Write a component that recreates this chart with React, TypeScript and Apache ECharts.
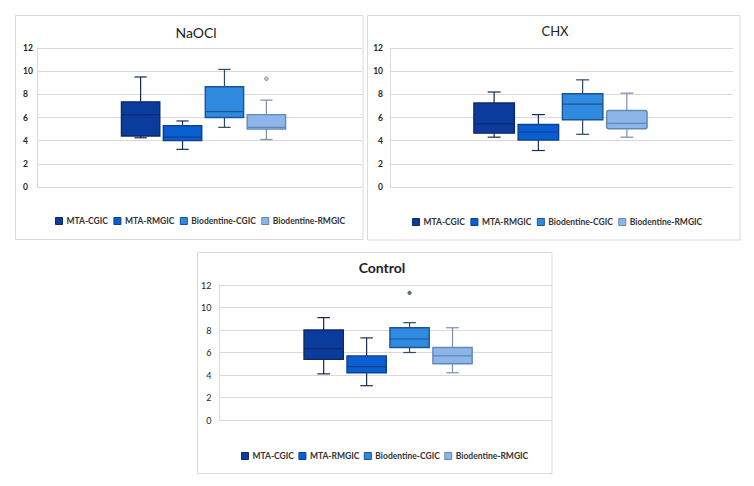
import React, { useEffect, useRef } from "react";
import * as echarts from "echarts";

// ---------- DATA ----------
const GROUPS = ["MTA-CGIC", "MTA-RMGIC", "Biodentine-CGIC", "Biodentine-RMGIC"];
const PANEL_TITLES = ["NaOCl", "CHX", "Control"];
const Y_MIN = 0;
const Y_MAX = 12;
const Y_STEP = 2;

// each box: [min, Q1, median, Q3, max]
const NAOCL_BOXES = [
  [4.25, 4.4, 6.25, 7.35, 9.5],
  [3.25, 4.0, 4.3, 5.3, 5.7],
  [5.15, 6.0, 6.5, 8.65, 10.15],
  [4.1, 5.0, 5.15, 6.25, 7.5],
];
const NAOCL_OUTLIERS = [[], [], [], [9.35]];

const CHX_BOXES = [
  [4.3, 4.65, 5.45, 7.25, 8.2],
  [3.15, 4.05, 4.75, 5.4, 6.25],
  [4.55, 5.8, 7.15, 8.05, 9.25],
  [4.3, 5.03, 5.5, 6.6, 8.1],
];
const CHX_OUTLIERS = [[], [], [], []];

const CONTROL_BOXES = [
  [4.1, 5.4, 6.35, 8.0, 9.1],
  [3.05, 4.2, 4.75, 5.7, 7.3],
  [6.0, 6.45, 7.2, 8.2, 8.65],
  [4.2, 5.0, 5.7, 6.45, 8.2],
];
const CONTROL_OUTLIERS = [[], [], [11.3], []];

const ALL_BOXES = [NAOCL_BOXES, CHX_BOXES, CONTROL_BOXES];
const ALL_OUTLIERS = [NAOCL_OUTLIERS, CHX_OUTLIERS, CONTROL_OUTLIERS];

// ---------- STYLE / LAYOUT ----------
const FONT = "Lato, 'Open Sans', 'DejaVu Sans', sans-serif";
const FILLS = ["#0b3b9c", "#0a5fd0", "#2f8be0", "#8cb6ea"];
const BORDERS = ["#0e2a66", "#0c3f8e", "#1d5393", "#6487b6"];
const WHISKERS = ["#15294f", "#172f58", "#2b4768", "#7b8fa9"];
const GRID_COLOR = "#d9d9d9";

const LAYOUT = [
  {
    grid: { left: 37, top: 48, width: 325, height: 139 },
    label: { align: "left", margin: 14, weight: "bold", size: 8.5 },
    title: { x: 196, y: 32, size: 14, weight: "normal" },
    legend: { left: 55, top: 216, gap: 5.5 },
    shift: 4,
    frame: { x: 15.5, y: 15.5, w: 347.5, h: 224 },
  },
  {
    grid: { left: 390, top: 48, width: 343, height: 139 },
    label: { align: "right", margin: 7, weight: "bold", size: 8.5 },
    title: { x: 555, y: 31, size: 13, weight: "normal" },
    legend: { left: 412, top: 217, gap: 5.5 },
    shift: -1,
    frame: { x: 367.5, y: 15.5, w: 372.5, h: 224.5 },
  },
  {
    grid: { left: 219, top: 285, width: 333, height: 135 },
    label: { align: "right", margin: 7.5, weight: "normal", size: 9 },
    title: { x: 382, y: 267.5, size: 14, weight: "bold" },
    legend: { left: 241, top: 451, gap: 4.5 },
    shift: 2.6,
    frame: { x: 197.5, y: 252.5, w: 354.5, h: 221 },
  },
];

const SLOT_FRAC = 0.129; // spacing between boxes, as fraction of the band
const BOX_FRAC = 0.118; // box width, as fraction of the band
const CAP_FRAC = 0.32; // whisker cap width, as fraction of box width

function buildOption() {
  const grid: any[] = [];
  const xAxis: any[] = [];
  const yAxis: any[] = [];
  const series: any[] = [];
  const legend: any[] = [];
  const graphic: any[] = [];

  LAYOUT.forEach((L, p) => {
    grid.push({ ...L.grid, containLabel: false });
    xAxis.push({
      type: "category",
      gridIndex: p,
      data: [""],
      axisLine: { show: false },
      axisTick: { show: false },
      axisLabel: { show: false },
      splitLine: { show: false },
    });
    yAxis.push({
      type: "value",
      gridIndex: p,
      min: Y_MIN,
      max: Y_MAX,
      interval: Y_STEP,
      axisLine: { show: true, lineStyle: { color: GRID_COLOR, width: 1 } },
      axisTick: { show: false },
      splitLine: { show: true, lineStyle: { color: GRID_COLOR, width: 1 } },
      axisLabel: {
        align: L.label.align,
        margin: L.label.margin,
        fontFamily: FONT,
        fontSize: L.label.size,
        fontWeight: L.label.weight,
        color: "#262626",
      },
    });

    GROUPS.forEach((name, si) => {
      const box = ALL_BOXES[p][si];
      const outliers = ALL_OUTLIERS[p][si];
      series.push({
        type: "custom",
        name,
        xAxisIndex: p,
        yAxisIndex: p,
        data: [[0, ...box]],
        encode: { x: 0, y: [1, 2, 3, 4, 5] },
        itemStyle: { color: FILLS[si], borderColor: BORDERS[si] },
        renderItem: (params: any, api: any) => {
          const band = api.size([1, 0])[0];
          const c0 = api.coord([api.value(0), 0]);
          const cx = c0[0] + L.shift + (si - 1.5) * SLOT_FRAC * band;
          const w = BOX_FRAC * band;
          const cap = w * CAP_FRAC;
          const Y = (v: number) => api.coord([0, v])[1];
          const vMin = api.value(1);
          const q1 = api.value(2);
          const med = api.value(3);
          const q3 = api.value(4);
          const vMax = api.value(5);
          const wStyle = { stroke: WHISKERS[si], lineWidth: 1.2, fill: null };
          const children: any[] = [
            { type: "line", shape: { x1: cx, y1: Y(vMax), x2: cx, y2: Y(q3) }, style: wStyle },
            { type: "line", shape: { x1: cx, y1: Y(q1), x2: cx, y2: Y(vMin) }, style: wStyle },
            { type: "line", shape: { x1: cx - cap / 2, y1: Y(vMax), x2: cx + cap / 2, y2: Y(vMax) }, style: wStyle },
            { type: "line", shape: { x1: cx - cap / 2, y1: Y(vMin), x2: cx + cap / 2, y2: Y(vMin) }, style: wStyle },
            {
              type: "rect",
              shape: { x: cx - w / 2, y: Y(q3), width: w, height: Y(q1) - Y(q3), r: si === 3 && p === 1 ? 2 : 0 },
              style: { fill: FILLS[si], stroke: BORDERS[si], lineWidth: 1.4 },
            },
            {
              type: "line",
              shape: { x1: cx - w / 2, y1: Y(med), x2: cx + w / 2, y2: Y(med) },
              style: { stroke: BORDERS[si], lineWidth: 1.2 },
            },
          ];
          outliers.forEach((o: number) => {
            children.push({
              type: "circle",
              shape: { cx, cy: Y(o), r: 1.8 },
              style: { fill: p === 2 ? "#4f7396" : "#c9d3de", stroke: "#5f6f80", lineWidth: 0.8 },
            });
          });
          return { type: "group", children };
        },
      });
    });

    legend.push({
      left: L.legend.left,
      top: L.legend.top,
      orient: "horizontal",
      padding: 0,
      itemWidth: 7,
      itemHeight: 7,
      itemGap: L.legend.gap,
      selectedMode: false,
      icon: "rect",
      textStyle: {
        fontFamily: FONT,
        fontSize: 8.5,
        fontWeight: "bold",
        color: "#333333",
        lineHeight: 10,
        padding: [0, 0, 0, -1],
      },
      data: GROUPS.map((n, si) => ({
        name: n,
        itemStyle: { color: FILLS[si], borderColor: BORDERS[si], borderWidth: 1 },
      })),
    });

    graphic.push({
      type: "rect",
      silent: true,
      z: -10,
      shape: { x: L.frame.x, y: L.frame.y, width: L.frame.w, height: L.frame.h },
      style: { fill: "#ffffff", stroke: GRID_COLOR, lineWidth: 1 },
    });
    graphic.push({
      type: "text",
      silent: true,
      x: L.title.x,
      y: L.title.y,
      style: {
        text: PANEL_TITLES[p],
        font: `${L.title.weight} ${L.title.size}px ${FONT}`,
        fill: "#222222",
        align: "center",
        verticalAlign: "middle",
        textAlign: "center",
        textVerticalAlign: "middle",
      },
    });
  });

  return {
    animation: false,
    backgroundColor: "#ffffff",
    grid,
    xAxis,
    yAxis,
    legend,
    graphic: { elements: graphic },
    series,
  };
}

export default function App() {
  const ref = useRef<HTMLDivElement | null>(null);
  useEffect(() => {
    if (!ref.current) return;
    const chart = echarts.init(ref.current, undefined, { renderer: "svg" });
    chart.setOption(buildOption() as any);
    return () => chart.dispose();
  }, []);
  return (
    <div
      ref={ref}
      style={{ position: "absolute", left: 0, top: 0, width: 754, height: 486 }}
    />
  );
}
